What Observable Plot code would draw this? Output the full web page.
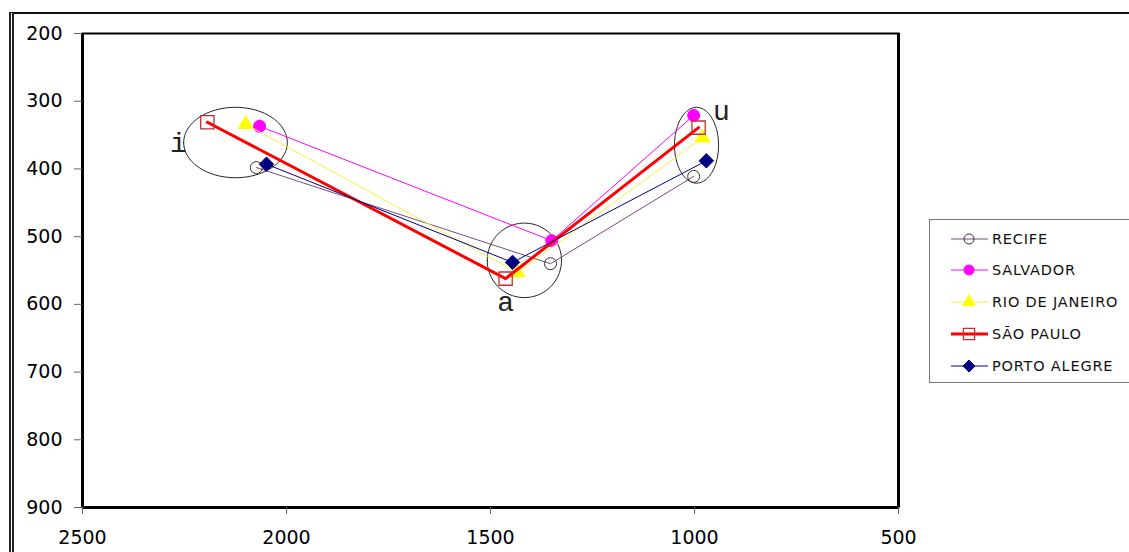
<!DOCTYPE html>
<html>
<head>
<meta charset="utf-8">
<script src="https://cdn.jsdelivr.net/npm/d3@7"></script>
<script src="https://cdn.jsdelivr.net/npm/@observablehq/plot@0.6"></script>
<style>
  html, body { margin: 0; padding: 0; background: #fff; overflow: hidden; }
  #wrap { position: relative; width: 1129px; height: 552px; overflow: hidden; background: #fff; }
  #outer { position: absolute; left: 9px; top: 12px; width: 1120px; height: 700px; border-left: 5px double #222; border-top: 2px solid #111; box-sizing: border-box; }
  #chart { position: absolute; left: 0; top: 0; }
  #legend { position: absolute; left: 929px; top: 219px; width: 210px; height: 164px; border: 1px solid #777; box-sizing: border-box; background: #fff; }
  .row { position: absolute; left: 0; height: 20px; display: flex; align-items: center; }
  .row span { font-family: "DejaVu Sans", sans-serif; font-size: 14.5px; letter-spacing: 0.8px; color: #111; margin-left: 2px; }
</style>
</head>
<body>
<div id="wrap">
  <div id="outer"></div>
  <div id="chart"></div>
  <div id="legend"></div>
</div>
<script>
// ---- data (F2 on x, F1 on y, Hz) ----
const vowels = ["i", "a", "u"];
const cities = ["RECIFE", "SALVADOR", "RIO DE JANEIRO", "SÃO PAULO", "PORTO ALEGRE"];

const recifeF2   = [2074, 1353, 1002];
const recifeF1   = [398, 540, 411];
const salvadorF2 = [2066, 1350, 1002];
const salvadorF1 = [337, 506, 321];
const rioF2      = [2100, 1434, 980];
const rioF1      = [334, 553, 354];
const spF2       = [2194, 1463, 990];
const spF1       = [331, 562, 339];
const paF2       = [2049, 1446, 971];
const paF1       = [393, 538, 388];

const xTicks = [2500, 2000, 1500, 1000, 500];
const yTicks = [200, 300, 400, 500, 600, 700, 800, 900];

// vowel labels and grouping ellipses (annotation, data units)
const labelF2 = [2265, 1463, 934];
const labelF1 = [362, 597, 314];
const ellipseF2 = [2125, 1417, 995];
const ellipseF1 = [361, 535, 365];
const ellipseRx = [127, 91, 54];
const ellipseRy = [52, 55, 56];

// ---- styles ----
const seriesF2 = [recifeF2, salvadorF2, rioF2, spF2, paF2];
const seriesF1 = [recifeF1, salvadorF1, rioF1, spF1, paF1];
const lineColor = ["#7a4a7a", "#ff00ff", "#f4f040", "#ff0000", "#000080"];
const lineWidth = [1, 1, 1, 3, 1];
const symbols = ["circle", "circle", "triangle", "square", "diamond2"];
const symR = [6, 6, 5.5, 7.5, 6.5];
const symFill = ["none", "#ff00ff", "#ffff00", "none", "#000080"];
const symStroke = ["#333333", "#ff00ff", "#ffff00", "#c03030", "#000080"];
const symStrokeW = [1, 1, 1, 1.3, 1];

const rows = [];
cities.forEach((c, ci) => vowels.forEach((v, vi) => rows.push({city: c, vowel: v, f2: seriesF2[ci][vi], f1: seriesF1[ci][vi]})));

const ellipsePts = [];
vowels.forEach((v, k) => {
  for (let t = 0; t <= 96; t++) {
    const a = t / 96 * 2 * Math.PI;
    ellipsePts.push({v, f2: ellipseF2[k] + ellipseRx[k] * Math.cos(a), f1: ellipseF1[k] + ellipseRy[k] * Math.sin(a)});
  }
});

const marks = [
  Plot.line(ellipsePts, {x: "f2", y: "f1", z: "v", stroke: "#222", strokeWidth: 1}),
];
cities.forEach((c, ci) => {
  const d = rows.filter(r => r.city === c);
  marks.push(Plot.line(d, {x: "f2", y: "f1", stroke: lineColor[ci], strokeWidth: lineWidth[ci]}));
  marks.push(Plot.dot(d, {x: "f2", y: "f1", symbol: symbols[ci], r: symR[ci], fill: symFill[ci], stroke: symStroke[ci], strokeWidth: symStrokeW[ci]}));
});
marks.push(Plot.text(vowels, {x: (d, i) => labelF2[i], y: (d, i) => labelF1[i], text: d => d, fontFamily: "Liberation Mono", fontSize: 28, fill: "#222"}));
marks.push(Plot.frame({stroke: "#000", strokeWidth: 2}));
marks.push(Plot.ruleX([2500, 500], {stroke: "#000", strokeWidth: 3}));
marks.push(Plot.ruleY([900], {stroke: "#000", strokeWidth: 3}));
marks.push(Plot.axisX({ticks: xTicks, tickFormat: d => String(d), tickSize: 7, tickPadding: 16, label: null, stroke: "#666"}));
marks.push(Plot.axisY({ticks: yTicks, tickFormat: d => String(d), tickSize: 8, tickPadding: 12, label: null, stroke: "#666"}));

const chart = Plot.plot({
  width: 1129,
  height: 552,
  marginLeft: 82,
  marginRight: 231,
  marginTop: 33,
  marginBottom: 45,
  x: {domain: [2500, 500]},
  y: {domain: [900, 200]},
  style: {fontFamily: "DejaVu Sans, sans-serif", fontSize: "19px", color: "#000", background: "transparent", overflow: "visible"},
  marks
});
document.getElementById("chart").appendChild(chart);

// ---- legend ----
const legend = d3.select("#legend");
const rowTops = [9, 40, 72, 104, 136];
cities.forEach((c, ci) => {
  const row = legend.append("div").attr("class", "row").style("top", rowTops[ci] + "px");
  const svg = row.append("svg").attr("width", 60).attr("height", 20);
  svg.append("line").attr("x1", 21).attr("x2", 58).attr("y1", 10).attr("y2", 10)
     .attr("stroke", lineColor[ci]).attr("stroke-width", lineWidth[ci]);
  const sym = {circle: d3.symbolCircle, triangle: d3.symbolTriangle, square: d3.symbolSquare, diamond2: d3.symbolDiamond2}[symbols[ci]];
  svg.append("path").attr("transform", "translate(39,10)")
     .attr("d", d3.symbol(sym, Math.PI * symR[ci] * symR[ci] * 0.7)())
     .attr("fill", symFill[ci]).attr("stroke", symStroke[ci]).attr("stroke-width", symStrokeW[ci]);
  row.append("span").text(c);
});
</script>
</body>
</html>
